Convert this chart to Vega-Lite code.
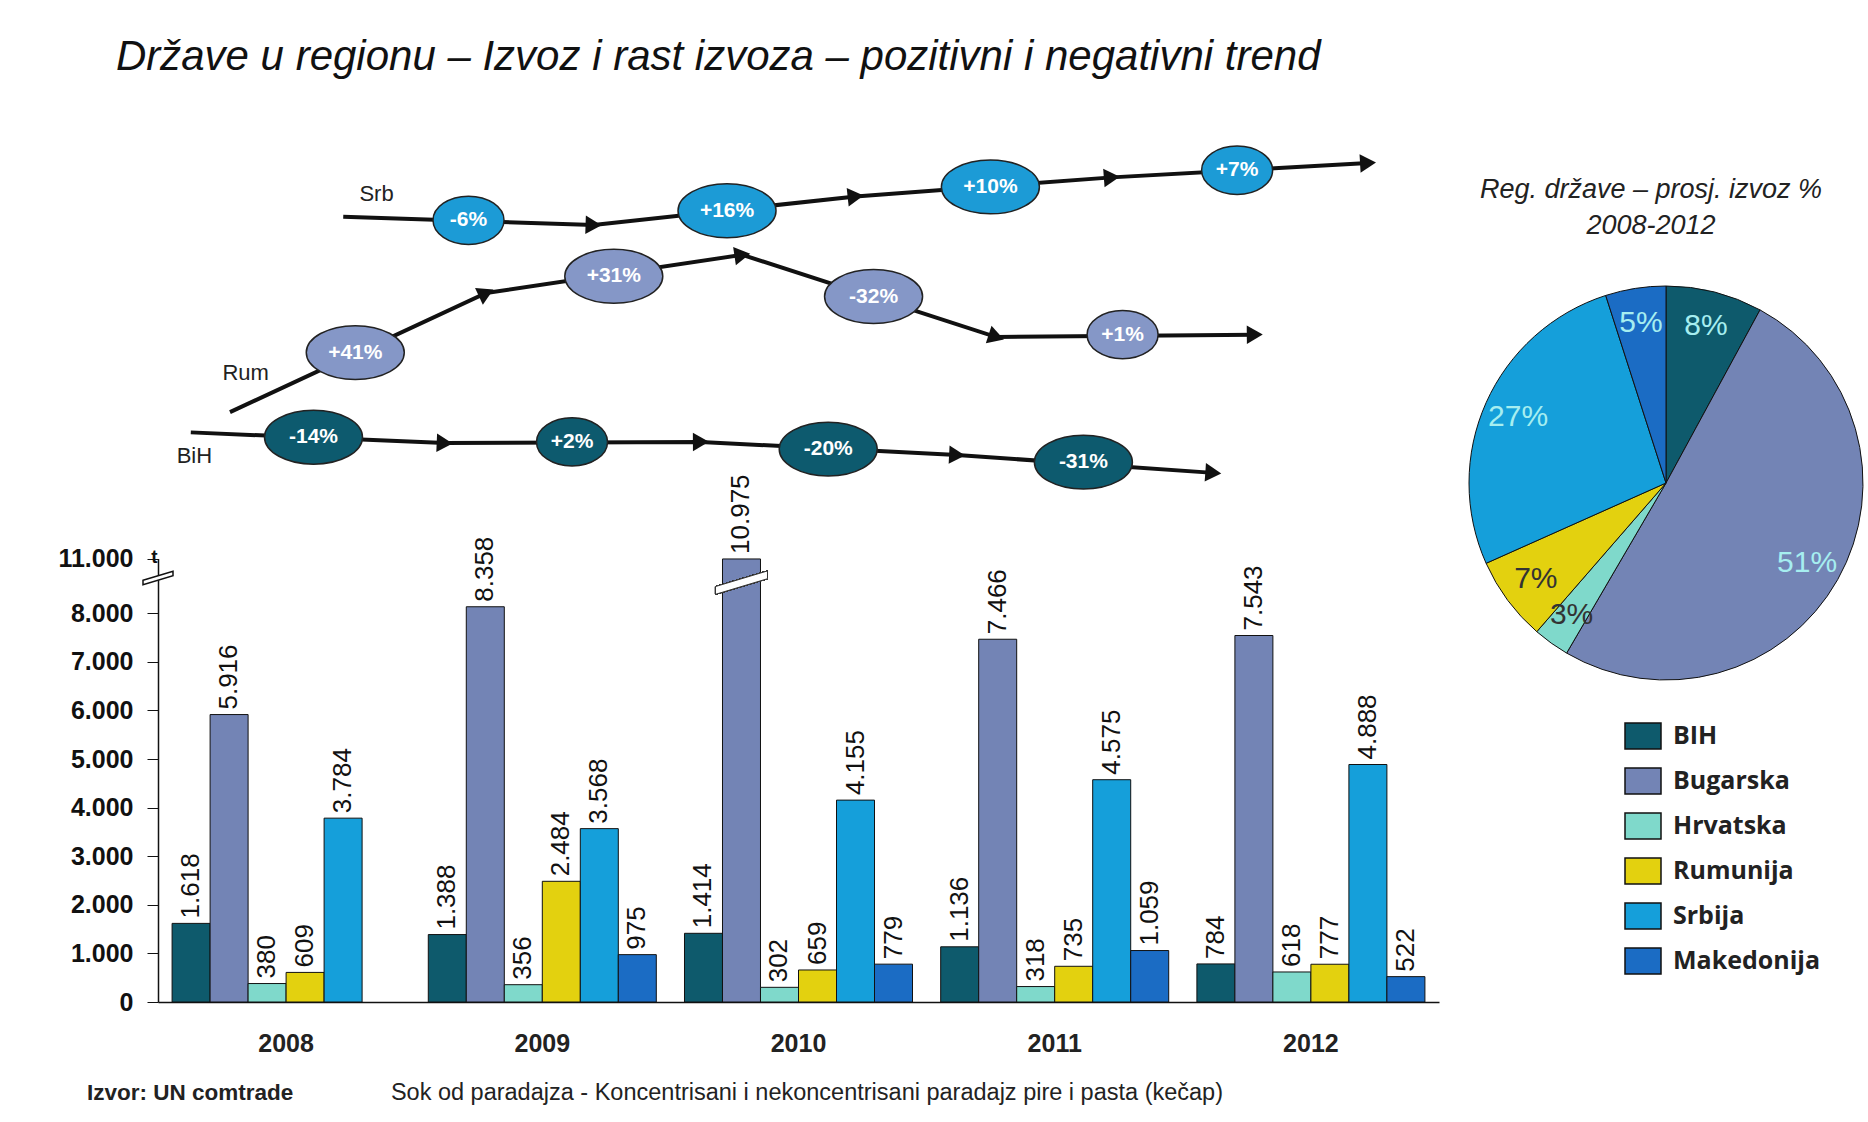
{
  "$schema": "https://vega.github.io/schema/vega-lite/v6.json",
  "background": "white",
  "padding": {"left": 57, "top": 35, "right": 0, "bottom": 0},
  "config": {
    "locale": {"number": {"decimal": ",", "thousands": ".", "grouping": [3], "currency": ["", " KM"]}},
    "view": {"stroke": null},
    "font": "Liberation Sans"
  },
  "title": {
    "text": "Države u regionu – Izvoz i rast izvoza – pozitivni i negativni trend",
    "anchor": "start", "fontSize": 42, "fontStyle": "italic", "fontWeight": "normal",
    "font": "Liberation Sans", "color": "#111", "dx": 58, "offset": 64.5
  },
  "datasets": {
    "exports": [
      {"year": "2008", "country": "BIH", "tons": 1618},
      {"year": "2008", "country": "Bugarska", "tons": 5916},
      {"year": "2008", "country": "Hrvatska", "tons": 380},
      {"year": "2008", "country": "Rumunija", "tons": 609},
      {"year": "2008", "country": "Srbija", "tons": 3784},
      {"year": "2009", "country": "BIH", "tons": 1388},
      {"year": "2009", "country": "Bugarska", "tons": 8358},
      {"year": "2009", "country": "Hrvatska", "tons": 356},
      {"year": "2009", "country": "Rumunija", "tons": 2484},
      {"year": "2009", "country": "Srbija", "tons": 3568},
      {"year": "2009", "country": "Makedonija", "tons": 975},
      {"year": "2010", "country": "BIH", "tons": 1414},
      {"year": "2010", "country": "Bugarska", "tons": 10975},
      {"year": "2010", "country": "Hrvatska", "tons": 302},
      {"year": "2010", "country": "Rumunija", "tons": 659},
      {"year": "2010", "country": "Srbija", "tons": 4155},
      {"year": "2010", "country": "Makedonija", "tons": 779},
      {"year": "2011", "country": "BIH", "tons": 1136},
      {"year": "2011", "country": "Bugarska", "tons": 7466},
      {"year": "2011", "country": "Hrvatska", "tons": 318},
      {"year": "2011", "country": "Rumunija", "tons": 735},
      {"year": "2011", "country": "Srbija", "tons": 4575},
      {"year": "2011", "country": "Makedonija", "tons": 1059},
      {"year": "2012", "country": "BIH", "tons": 784},
      {"year": "2012", "country": "Bugarska", "tons": 7543},
      {"year": "2012", "country": "Hrvatska", "tons": 618},
      {"year": "2012", "country": "Rumunija", "tons": 777},
      {"year": "2012", "country": "Srbija", "tons": 4888},
      {"year": "2012", "country": "Makedonija", "tons": 522}
    ],
    "share": [
      {"country": "BIH", "share": 0.08},
      {"country": "Bugarska", "share": 0.51},
      {"country": "Hrvatska", "share": 0.03},
      {"country": "Rumunija", "share": 0.07},
      {"country": "Srbija", "share": 0.27},
      {"country": "Makedonija", "share": 0.05}
    ],
    "trend_nodes": [
      {"series": "Srb", "step": 0, "pos": 2008.223, "level": 91.53, "heading": 0},
      {"series": "Srb", "step": 1, "pos": 2009.2, "level": 90.56, "heading": 1.9},
      {"series": "Srb", "step": 2, "pos": 2010.223, "level": 93.89, "heading": -6.2},
      {"series": "Srb", "step": 3, "pos": 2011.223, "level": 96.11, "heading": -4.3},
      {"series": "Srb", "step": 4, "pos": 2012.223, "level": 97.78, "heading": -3.2},
      {"series": "Rum", "step": 0, "pos": 2007.781, "level": 68.75, "heading": 0},
      {"series": "Rum", "step": 1, "pos": 2008.781, "level": 82.64, "heading": -24.9},
      {"series": "Rum", "step": 2, "pos": 2009.781, "level": 87.08, "heading": -8.5},
      {"series": "Rum", "step": 3, "pos": 2010.772, "level": 77.5, "heading": 17.9},
      {"series": "Rum", "step": 4, "pos": 2011.781, "level": 77.78, "heading": -0.5},
      {"series": "BiH", "step": 0, "pos": 2007.628, "level": 66.39, "heading": 0},
      {"series": "BiH", "step": 1, "pos": 2008.619, "level": 65.14, "heading": 2.4},
      {"series": "BiH", "step": 2, "pos": 2009.619, "level": 65.28, "heading": -0.3},
      {"series": "BiH", "step": 3, "pos": 2010.619, "level": 63.75, "heading": 2.9},
      {"series": "BiH", "step": 4, "pos": 2011.619, "level": 61.67, "heading": 4.0}
    ],
    "trend_badges": [
      {"series": "Srb", "change": "-6%", "pos": 2008.712, "level": 91.11},
      {"series": "Srb", "change": "+16%", "pos": 2009.721, "level": 92.22},
      {"series": "Srb", "change": "+10%", "pos": 2010.749, "level": 95.0},
      {"series": "Srb", "change": "+7%", "pos": 2011.712, "level": 96.94},
      {"series": "Rum", "change": "+41%", "pos": 2008.27, "level": 75.69},
      {"series": "Rum", "change": "+31%", "pos": 2009.279, "level": 84.58},
      {"series": "Rum", "change": "-32%", "pos": 2010.293, "level": 82.22},
      {"series": "Rum", "change": "+1%", "pos": 2011.265, "level": 77.78},
      {"series": "BiH", "change": "-14%", "pos": 2008.107, "level": 65.83},
      {"series": "BiH", "change": "+2%", "pos": 2009.116, "level": 65.28},
      {"series": "BiH", "change": "-20%", "pos": 2010.116, "level": 64.44},
      {"series": "BiH", "change": "-31%", "pos": 2011.112, "level": 62.92}
    ],
    "trend_labels": [
      {"series": "Srb", "pos": 2008.353, "level": 94.17},
      {"series": "Rum", "pos": 2007.842, "level": 73.33},
      {"series": "BiH", "pos": 2007.642, "level": 63.61}
    ],
    "notes": [
      {"kind": "source", "label": "Izvor: UN comtrade", "pos": 2007.223, "level": -10.6},
      {"kind": "product", "label": "Sok od paradajza - Koncentrisani i nekoncentrisani paradajz pire i pasta (kečap)", "pos": 2008.409, "level": -10.6}
    ],
    "axis_break": [
      {"kind": "y-axis break", "pos": 2007.5, "level": 49.5}
    ]
  },
  "spacing": 27,
  "hconcat": [
    {
      "width": 1281,
      "height": 858,
      "resolve": {"scale": {"x": "independent", "y": "independent"}},
      "layer": [
        {
          "data": {"name": "exports"},
          "encoding": {
            "x": {
              "field": "year", "type": "nominal",
              "scale": {"paddingInner": 0.11, "paddingOuter": 0.055},
              "axis": {"title": null, "labelAngle": 0, "labelFontSize": 25, "labelFontWeight": "bold", "labelColor": "#222", "ticks": false, "labelPadding": 29, "domainColor": "#111", "domainWidth": 1.5}
            },
            "xOffset": {
              "field": "country", "type": "nominal",
              "sort": ["BIH", "Bugarska", "Hrvatska", "Rumunija", "Srbija", "Makedonija"],
              "scale": {"domain": ["BIH", "Bugarska", "Hrvatska", "Rumunija", "Srbija", "Makedonija"], "paddingInner": 0, "paddingOuter": 0}
            },
            "y": {
              "field": "tons", "type": "quantitative",
              "scale": {"domain": [0, 8000, 11000], "range": [858, 469.3, 414.5], "nice": false, "zero": false},
              "axis": {
                "values": [0, 1000, 2000, 3000, 4000, 5000, 6000, 7000, 8000, 11000],
                "labelExpr": "format(datum.value, ',')", "grid": false, "labelFontSize": 25, "labelFontWeight": "bold", "labelColor": "#111",
                "tickColor": "#111", "tickSize": 11, "labelPadding": 14, "domainColor": "#111", "domainWidth": 1.5,
                "title": "t", "titleAngle": 0, "titleX": -4, "titleY": 412, "titleAlign": "center", "titleBaseline": "middle",
                "titleFontSize": 19, "titleFontWeight": "bold", "titleColor": "#111"
              }
            }
          },
          "layer": [
            {
              "mark": {"type": "bar", "stroke": "#111", "strokeWidth": 1},
              "encoding": {
                "color": {
                  "field": "country", "type": "nominal",
                  "sort": ["BIH", "Bugarska", "Hrvatska", "Rumunija", "Srbija", "Makedonija"],
                  "scale": {"domain": ["BIH", "Bugarska", "Hrvatska", "Rumunija", "Srbija", "Makedonija"], "range": ["#0e5a6c", "#7384b5", "#7fd9cb", "#e3d10f", "#159fda", "#1b6cc4"]},
                  "legend": {
                    "orient": "none", "legendX": 1466, "legendY": 573, "title": null,
                    "symbolType": "M-1,-0.72H1V0.72H-1Z", "symbolSize": 1296, "symbolStrokeColor": "#111", "symbolStrokeWidth": 1.5, "symbolOpacity": 1,
                    "labelFont": "Open Sans", "labelFontSize": 25, "labelFontWeight": "bold", "labelColor": "#222", "rowPadding": 10, "labelOffset": 11, "labelLimit": 300
                  }
                }
              }
            },
            {
              "mark": {"type": "text", "angle": 270, "align": "left", "baseline": "middle", "dx": 5, "fontSize": 26, "color": "#111"},
              "encoding": {"text": {"field": "tons", "type": "quantitative", "format": ","}}
            },
            {
              "mark": {"type": "point", "shape": "M-1,0.2L1,-0.4L1,-0.1L-1,0.5Z", "filled": true, "fill": "white", "stroke": "#333", "strokeWidth": 1, "size": 2704, "opacity": 1},
              "encoding": {
                "x": {"datum": "2010"},
                "xOffset": {"datum": "Bugarska"},
                "y": {"datum": 9750}
              }
            }
          ]
        },
        {
          "encoding": {
            "x": {"field": "pos", "type": "quantitative", "scale": {"domain": [2007.5, 2012.5], "nice": false, "zero": false}, "axis": null},
            "y": {"field": "level", "type": "quantitative", "scale": {"domain": [0, 100], "nice": false, "zero": false}, "axis": null}
          },
          "layer": [
            {
              "data": {"name": "trend_nodes"},
              "mark": {"type": "line", "color": "#111", "strokeWidth": 4},
              "encoding": {"detail": {"field": "series"}, "order": {"field": "step", "type": "quantitative"}}
            },
            {
              "data": {"name": "trend_nodes"},
              "transform": [{"filter": "datum.step > 0"}],
              "mark": {"type": "point", "shape": "triangle-right", "filled": true, "color": "#111", "size": 340, "opacity": 1},
              "encoding": {"angle": {"field": "heading", "type": "quantitative", "scale": null}}
            },
            {
              "data": {"name": "trend_badges"},
              "transform": [{"filter": "length(datum.change) > 3"}],
              "mark": {"type": "point", "shape": "M-1,0A1,0.55,0,1,1,1,0A1,0.55,0,1,1,-1,0Z", "filled": true, "stroke": "#222", "strokeWidth": 1.5, "size": 9604, "opacity": 1},
              "encoding": {
                "fill": {"field": "series", "type": "nominal", "scale": {"domain": ["Srb", "Rum", "BiH"], "range": ["#1c9bd6", "#8597c7", "#0d5a6e"]}, "legend": null}
              }
            },
            {
              "data": {"name": "trend_badges"},
              "transform": [{"filter": "length(datum.change) <= 3"}],
              "mark": {"type": "point", "shape": "M-1,0A1,0.68,0,1,1,1,0A1,0.68,0,1,1,-1,0Z", "filled": true, "stroke": "#222", "strokeWidth": 1.5, "size": 5041, "opacity": 1},
              "encoding": {
                "fill": {"field": "series", "type": "nominal", "scale": {"domain": ["Srb", "Rum", "BiH"], "range": ["#1c9bd6", "#8597c7", "#0d5a6e"]}, "legend": null}
              }
            },
            {
              "data": {"name": "trend_badges"},
              "mark": {"type": "text", "color": "white", "fontSize": 21, "fontWeight": "bold", "baseline": "middle"},
              "encoding": {"text": {"field": "change"}}
            },
            {
              "data": {"name": "trend_labels"},
              "mark": {"type": "text", "color": "#222", "fontSize": 22, "baseline": "middle"},
              "encoding": {"text": {"field": "series"}}
            },
            {
              "data": {"name": "notes"},
              "transform": [{"filter": "datum.kind === 'source'"}],
              "mark": {"type": "text", "align": "left", "baseline": "middle", "fontSize": 22.5, "fontWeight": "bold", "color": "#222"},
              "encoding": {"text": {"field": "label"}}
            },
            {
              "data": {"name": "notes"},
              "transform": [{"filter": "datum.kind === 'product'"}],
              "mark": {"type": "text", "align": "left", "baseline": "middle", "fontSize": 23.5, "color": "#222"},
              "encoding": {"text": {"field": "label"}}
            },
            {
              "data": {"name": "axis_break"},
              "mark": {"type": "point", "shape": "M-1,0.2L1,-0.4L1,-0.1L-1,0.5Z", "filled": true, "fill": "white", "stroke": "#111", "strokeWidth": 1.5, "size": 900, "opacity": 1}
            }
          ]
        }
      ]
    },
    {
      "width": 400,
      "height": 678,
      "layer": [
        {
          "data": {"name": "share"},
          "transform": [{"window": [{"op": "row_number", "as": "idx"}]}],
          "mark": {"type": "arc", "outerRadius": 197, "stroke": "#111", "strokeWidth": 1},
          "encoding": {
            "theta": {"field": "share", "type": "quantitative", "stack": true},
            "order": {"field": "idx", "type": "quantitative"},
            "color": {
              "field": "country", "type": "nominal",
              "sort": ["BIH", "Bugarska", "Hrvatska", "Rumunija", "Srbija", "Makedonija"],
              "scale": {"domain": ["BIH", "Bugarska", "Hrvatska", "Rumunija", "Srbija", "Makedonija"], "range": ["#0e5a6c", "#7384b5", "#7fd9cb", "#e3d10f", "#159fda", "#1b6cc4"]}
            }
          }
        },
        {
          "data": {"name": "share"},
          "transform": [{"window": [{"op": "row_number", "as": "idx"}]}],
          "mark": {"type": "text", "radius": 162, "fontSize": 30, "baseline": "middle"},
          "encoding": {
            "theta": {"field": "share", "type": "quantitative", "stack": true},
            "order": {"field": "idx", "type": "quantitative"},
            "detail": {"field": "country"},
            "text": {"field": "share", "type": "quantitative", "format": ".0%"},
            "color": {"condition": {"test": "datum.country === 'Rumunija' || datum.country === 'Hrvatska'", "value": "#333"}, "value": "#a6eef0"}
          }
        },
        {
          "data": {"values": [{"title": "Reg. države – prosj. izvoz % 2008-2012"}]},
          "mark": {"type": "text", "text": ["Reg. države – prosj. izvoz %", "2008-2012"], "fontSize": 27, "fontStyle": "italic", "color": "#222", "lineHeight": 36, "baseline": "middle"},
          "encoding": {
            "x": {"datum": 0.4625, "type": "quantitative", "scale": {"domain": [0, 1], "nice": false, "zero": false}, "axis": null},
            "y": {"datum": 0.9325, "type": "quantitative", "scale": {"domain": [0, 1], "nice": false, "zero": false}, "axis": null}
          }
        }
      ]
    }
  ]
}
